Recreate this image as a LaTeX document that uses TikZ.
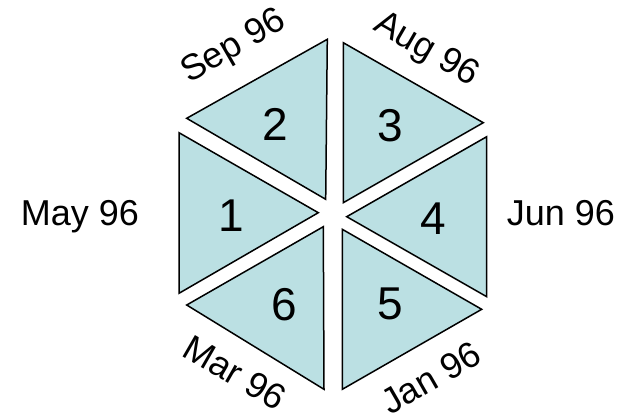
\documentclass[tikz,border=0pt]{standalone}
\usepackage{fontspec}
\setmainfont{Liberation Sans}
\definecolor{tealfill}{RGB}{187,224,227}
\tikzset{
  tri/.style={draw=black, fill=tealfill, line width=1.5pt, line join=miter},
  num/.style={font=\fontsize{46}{50}\selectfont, inner sep=0pt, anchor=base},
  lbl/.style={font=\fontsize{36}{40}\selectfont, inner sep=0pt},
}
\begin{document}
\begin{tikzpicture}[x=1pt,y=-1pt]
\useasboundingbox (0,0) rectangle (621,416);
% triangles
\draw[tri] (186.7,118.3) -- (327.3,39.3) -- (325.7,199.3) -- cycle; % 2
\draw[tri] (343.3,42.7) -- (483.3,122.7) -- (343.3,202.7) -- cycle; % 3
\draw[tri] (179,132.7) -- (318.3,212.7) -- (179,293.3) -- cycle;   % 1
\draw[tri] (486.7,136.7) -- (346.7,216.7) -- (486.7,296.7) -- cycle; % 4
\draw[tri] (186.7,305) -- (323.3,226.7) -- (324,389.3) -- cycle;   % 6
\draw[tri] (342.3,229.3) -- (481.7,309.3) -- (342.3,389.3) -- cycle; % 5
% numbers
\node[num] (n2) at (275,140) {2};
\node[num] (n3) at (390,141.5) {3};
\node[num] (n1) at (231,231.5) {1};
\node[num] (n4) at (433,234) {4};
\node[num] (n6) at (284,320) {6};
\node[num] (n5) at (390,319.5) {5};
% labels
\node[lbl, anchor=base] (may) at (80,225) {May 96};
\node[lbl, anchor=base] (jun) at (561,225) {Jun 96};
\node[lbl, rotate=30] (sep) at (234,47) {Sep 96};
\node[lbl, rotate=-30] (aug) at (426,50) {Aug 96};
\node[lbl, rotate=-30] (mar) at (235,373) {Mar 96};
\node[lbl, rotate=30] (jan) at (431,378) {Jan 96};
\end{tikzpicture}
\end{document}
